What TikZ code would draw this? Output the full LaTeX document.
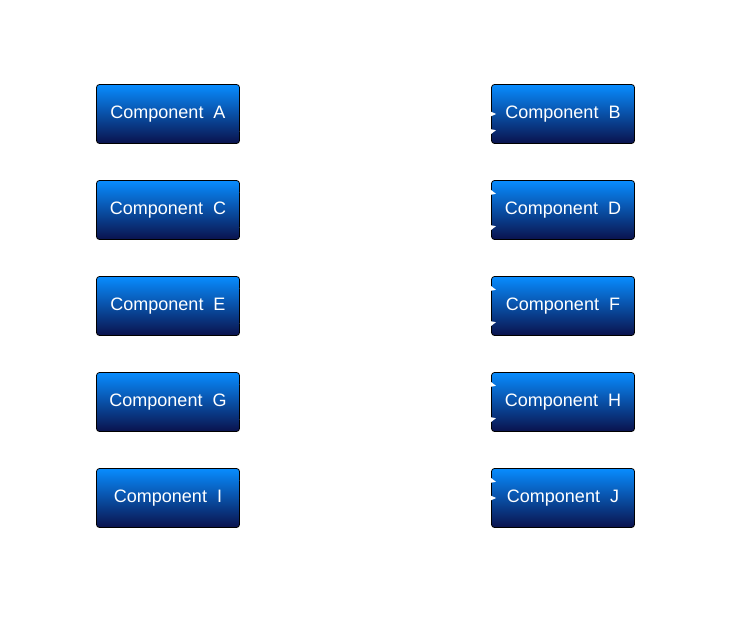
\documentclass[tikz,border=0pt]{standalone}
\usepackage{fontspec}
\setmainfont{Liberation Sans}
\usepackage{tikz}
\usetikzlibrary{arrows.meta}

\definecolor{comptop}{RGB}{8,140,255}
\definecolor{compbottom}{RGB}{10,18,76}

\tikzset{
	comp/.style={draw=black, line width=0.8pt, rounded corners=3pt,
		top color=comptop, bottom color=compbottom, text=white,
		minimum width=143pt, minimum height=59pt, inner sep=0pt,
		font=\fontsize{18}{20}\selectfont},
	msg/.style={draw=white, line width=0.8pt, shorten >=-5pt,
		-{Stealth[length=9pt, width=8pt]}},
	msglabel/.style={text=white, font=\fontsize{15}{16}\selectfont, sloped, above,
		inner sep=1pt}
}

\begin{document}
\begin{tikzpicture}[x=1pt, y=-1pt]
			\useasboundingbox[fill=white] (0,0) rectangle (740,618);
			\foreach \l/\r [count=\i from 0] in {A/B, C/D, E/F, G/H, I/J}
			{
				\node[comp] (\l) at (168, 114+96*\i) {Component\ \ \l};
				\node[comp] (\r) at (563, 114+96*\i) {Component\ \ \r};
			}
			% messages, left column to right column
			\draw[msg] (A) -- node[msglabel] {Message} (B);
			\draw[msg] (A) -- node[msglabel, pos=0.28] {Message} (D);
			\draw[msg] (C) -- node[msglabel, pos=0.72] {Message} (B);
			\draw[msg] (C) -- node[msglabel, pos=0.28] {Message} (F);
			\draw[msg] (E) -- node[msglabel, pos=0.72] {Message} (D);
			\draw[msg] (E) -- node[msglabel, pos=0.28] {Message} (H);
			\draw[msg] (G) -- node[msglabel, pos=0.72] {Message} (F);
			\draw[msg] (G) -- node[msglabel, pos=0.28] {Message} (J);
			\draw[msg] (I) -- node[msglabel, pos=0.72] {Message} (H);
			\draw[msg] (I) -- node[msglabel] {Message} (J);
		\end{tikzpicture}
\end{document}
